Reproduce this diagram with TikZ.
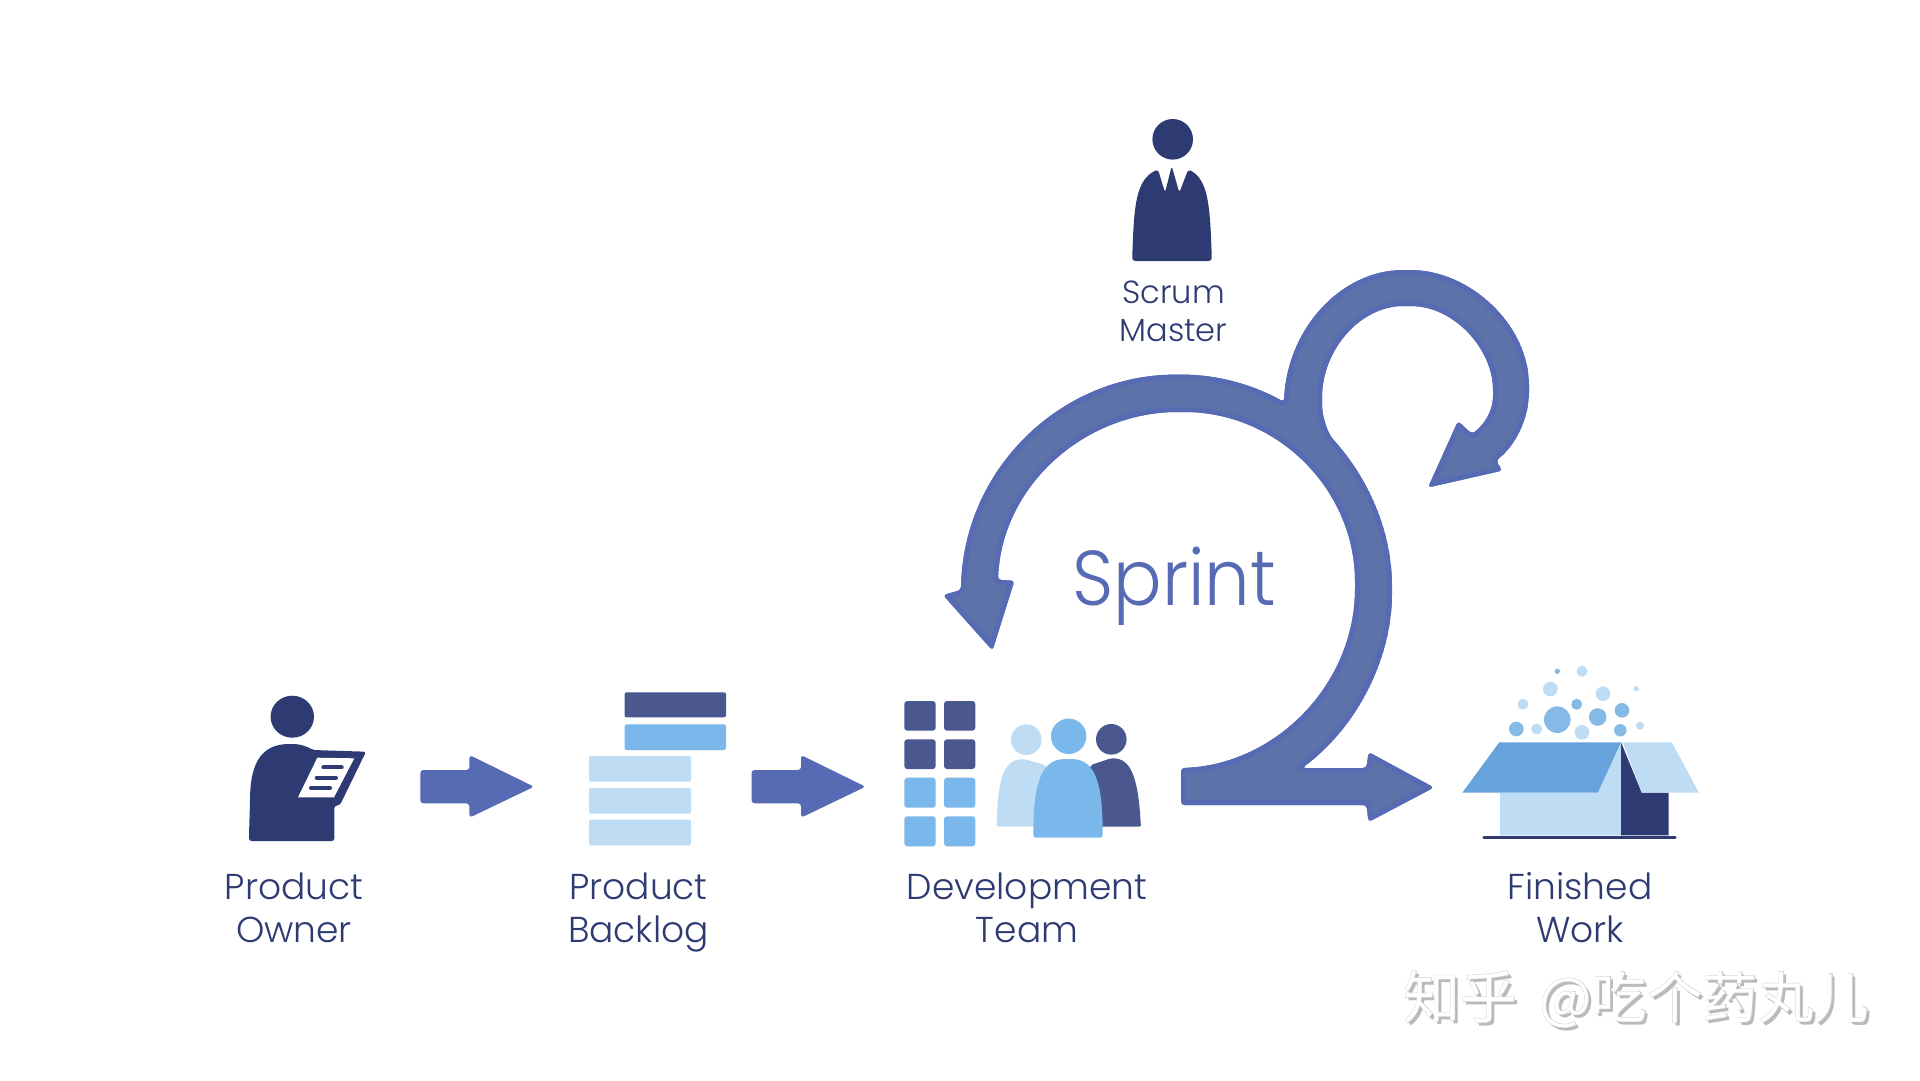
\documentclass[tikz,border=0pt]{standalone}
\usepackage{fontspec}
\setmainfont{Poppins}[UprightFont=* Light]
\newfontfamily\cjk{Noto Sans CJK SC}
\newfontfamily\cjkb{Noto Sans CJK SC}[FakeBold=1.2]
\definecolor{navy}{HTML}{2E3A72}
\definecolor{slate}{HTML}{4A588F}
\definecolor{sky}{HTML}{7AB8EC}
\definecolor{pale}{HTML}{BFDCF5}
\definecolor{flap}{HTML}{66A3DC}
\definecolor{bub}{HTML}{84BAE5}
\definecolor{edgeblue}{HTML}{566BB3}
\definecolor{innerblue}{HTML}{5D72A8}
\tikzset{
  lbl/.style={align=center,text=navy,font=\fontsize{36}{43.5}\selectfont,inner sep=0pt,anchor=base},
  bar/.style={rounded corners=2pt},
  blockarrow/.style={fill=edgeblue,rounded corners=3pt},
  bubm/.style={fill=bub},
  bubl/.style={fill=pale}
}
\def\bigpath{(1181,785) -- (1181,805) -- (1366.5,805) -- (1368.5,822) -- (1434,787.5) -- (1368.5,752) -- (1366.5,768) -- (1302,768)
 .. controls (1356,728) and (1392,660) .. (1392,590)
 .. controls (1392,530) and (1368,478) .. (1331,437)
 .. controls (1325,425) and (1322,413) .. (1322,401)
 .. controls (1322,350) and (1360,306) .. (1407,306)
 .. controls (1455,306) and (1493,350) .. (1493,393)
 .. controls (1493,410) and (1485,424) .. (1472,434)
 -- (1458,421) -- (1428,487.5) -- (1502.5,470.6) -- (1496,460.6)
 .. controls (1516,445) and (1529,418) .. (1529,388.5)
 .. controls (1529,325) and (1470,270) .. (1407,270)
 .. controls (1340,270) and (1287,330) .. (1284,402)
 .. controls (1252,384) and (1216,374.6) .. (1179,374.6)
 .. controls (1060,374.6) and (963,470) .. (961,590)
 -- (943,595) -- (992.5,650.5) -- (1014.5,580.5) -- (998,580)
 .. controls (1002,485) and (1085,412) .. (1181,412)
 .. controls (1278,412) and (1355,490) .. (1355,585)
 .. controls (1355,685) and (1275,765) .. (1181,768)
 -- cycle}
\begin{document}
\begin{tikzpicture}[x=1pt,y=-1pt]
\useasboundingbox (0,0) rectangle (1920,1080);
\fill[white] (0,0) rectangle (1920,1080);

% Scrum master
\fill[navy] (1172.7,139.3) circle (20.3pt);
\fill[navy,rounded corners=3pt] (1132.3,261) -- (1132.3,256)
  .. controls (1134,205) and (1136,180) .. (1158,169.3)
  -- (1165,192.7) -- (1171.7,166) -- (1179.3,192.7) -- (1188.3,169.3)
  .. controls (1208,180) and (1210,205) .. (1211.7,256)
  -- (1211.7,261) -- cycle;
\node[lbl,font=\fontsize{32}{38}\selectfont] (sm) at (1173.5,341) {Scrum\\Master};

% Big sprint arrow
\begin{scope}
\clip[rounded corners=3.5pt] \bigpath;
\draw[rounded corners=3.5pt,line width=10pt,draw=edgeblue,fill=innerblue] \bigpath;
\end{scope}
\node[inner sep=0pt,anchor=base,text=edgeblue,font=\fontsize{72}{80}\selectfont] (sprint) at (1174,605) {\scalebox{1}[1.08]{Sprint}};

% Product owner
\fill[navy] (292.3,716.7) ellipse (21.7pt and 21pt);
\fill[navy,rounded corners=2.5pt] (249,841) -- (334.3,841) -- (334.3,806) -- (340,805) -- (366,751.7) -- (313.3,750)
  .. controls (306,746) and (299,744) .. (291.7,744)
  .. controls (262,744) and (250,762) .. (250,803)
  -- (249,835) -- cycle;
\fill[white] (317.3,757.7) -- (354.3,758.3) -- (334,797.3) -- (298,797.3) -- cycle;
\draw[navy,line width=4pt,line cap=round] (323.3,767.3) -- (341.7,767.3) (316.7,777.7) -- (336,777.7) (311,787.7) -- (330,787.7);
\node[lbl] (po) at (294,942.7) {Product\\Owner};

% Arrows
\fill[blockarrow] (420.3,770) -- (469.4,770) -- (469.4,755) -- (534,786.7) -- (469.4,817.7) -- (469.4,803.3) -- (420.3,803.3) -- cycle;
\fill[blockarrow] (751.6,770) -- (801,770) -- (801,755) -- (865.5,786.7) -- (801,817.7) -- (801,803.3) -- (751.6,803.3) -- cycle;

% Backlog
\fill[slate,bar] (624.6,692.3) rectangle (726,717.3);
\fill[sky,bar] (624.6,724.3) rectangle (726,750);
\fill[pale,bar] (589,756) rectangle (691,781.7);
\fill[pale,bar] (589,788) rectangle (691,813.7);
\fill[pale,bar] (589,819.7) rectangle (691,845.3);
\node[lbl] (pb) at (638.5,942.7) {Product\\Backlog};

% Team grid
\foreach \yy/\yb/\cc in {701/730.7/slate,739.3/769/slate,777.7/807.7/sky,816.3/846.3/sky}{
  \fill[\cc,rounded corners=3pt] (904.3,\yy) rectangle (935.7,\yb);
  \fill[\cc,rounded corners=3pt] (944,\yy) rectangle (975.3,\yb);
}
% Team people
\fill[pale] (1026.3,739.7) circle (15.3pt);
\fill[slate] (1111.3,739.3) circle (15.3pt);
\fill[sky] (1068.7,736.3) circle (17.7pt);
\fill[pale,rounded corners=2pt] (996.7,826.7) -- (996.7,824) .. controls (998,775) and (1005,759.3) .. (1025,759.3) -- (1045,765) -- (1060,800) -- (1060,826.7) -- cycle;
\fill[slate,rounded corners=2pt] (1141,826.7) -- (1140.7,824) .. controls (1138,775) and (1130,758.3) .. (1111,758.3) -- (1090.7,765) -- (1080,800) -- (1080,826.7) -- cycle;
\fill[sky,rounded corners=2.5pt] (1033.3,837.7) -- (1033.3,830) .. controls (1034,775) and (1045,759) .. (1068,759) .. controls (1092,759) and (1102,775) .. (1102.7,830) -- (1102.7,837.7) -- cycle;
\node[lbl] (dt) at (1027,942.7) {Development\\Team};

% Finished work
\foreach \xx/\yy/\rr/\st in {1557.3/671.3/2.7/bubm,1582/671.3/5.5/bubl,1550.3/689/7.3/bubl,1603/693.7/7.3/bubl,1636.3/688.7/2.7/bubl,1523/704.3/5.5/bubl,1576.7/704.3/5.5/bubm,1622/710.3/7.3/bubm,1557.3/719.7/13.3/bubm,1597.7/717/8.8/bubm,1516.3/729/7.3/bubm,1536.7/729/5.5/bubl,1582/732.3/7.3/bubl,1620.3/730.3/6.2/bubm,1640/725.7/4/bubl}{
  \fill[\st] (\xx,\yy) circle (\rr pt);
}
\fill[pale] (1621,742.3) -- (1621,835.3) -- (1500,835.3) -- (1500,792.7) -- (1597.7,792.7) -- cycle;
\fill[flap] (1499.3,742.3) -- (1621,742.3) -- (1597.7,792.7) -- (1462.3,792.7) -- cycle;
\fill[navy] (1621,742.3) -- (1641.7,792.7) -- (1668.7,792.7) -- (1668.7,835.3) -- (1621,835.3) -- cycle;
\fill[pale] (1622.7,742.3) -- (1671.7,742.3) -- (1699,792.7) -- (1641.7,792.7) -- cycle;
\draw[navy,line width=3.5pt,line cap=round] (1484,837.7) -- (1675,837.7);
\node[lbl] (fw) at (1580,942.7) {Finished\\Work};

% Watermark
\newcommand{\wmtext}{知乎\hspace{22pt}{\fontsize{55.5}{60}\selectfont @吃个药丸儿}}
\node[inner sep=0pt,anchor=base west,text=black!27,font=\cjk\fontsize{57}{60}\selectfont] (wm1) at (1406,1021) {\wmtext};
\node[inner sep=0pt,anchor=base west,text=black!22,font=\cjkb\fontsize{57}{60}\selectfont] (wm2) at (1403,1018) {\wmtext};
\node[inner sep=0pt,anchor=base west,text=white,font=\cjk\fontsize{57}{60}\selectfont] (wm3) at (1403,1018) {\wmtext};
\end{tikzpicture}
\end{document}
